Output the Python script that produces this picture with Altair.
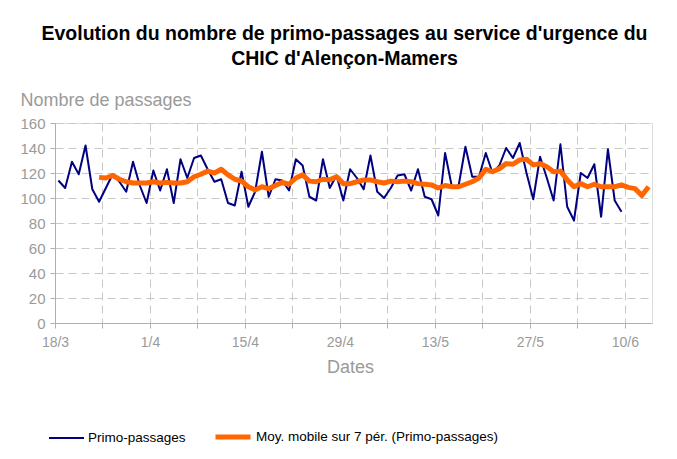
import altair as alt
import pandas as pd

# Date labels shown every 14 days (gridlines every 7 days), starting 18/3
date_labels = ["18/3", "1/4", "15/4", "29/4", "13/5", "27/5", "10/6"]

serie_names = ["Primo-passages", "Moy. mobile sur 7 pér. (Primo-passages)"]

# Daily primo-passages, from 18/3 (day 0) to day 83
primo = [114, 108, 129, 119, 142, 107, 97, 108, 119, 113,
         105, 129, 110, 96, 122, 106, 123, 96, 131, 116,
         132, 134, 123, 113, 115, 96, 94, 121, 93, 105,
         137, 101, 115, 114, 106, 131, 126, 101, 98, 131,
         108, 118, 98, 123, 116, 107, 134, 105, 100, 108,
         118, 119, 106, 123, 101, 99, 86, 136, 109, 110,
         141, 117, 117, 136, 120, 126, 140, 132, 144, 120,
         99, 133, 116, 98, 143, 93, 82, 120, 116, 127,
         85, 139, 98, 89]

# 7-period moving average, from day 6 to day 87
moy_start = 6
moy = [116.5, 116, 118, 115, 113, 112, 112, 112, 113, 112,
       112.5, 112, 112, 113, 117, 119, 121.5, 120, 123, 118.5,
       115, 113.5, 109, 106.5, 109, 107.5, 110, 112.5, 111, 116,
       118.5, 113.5, 113, 115, 114.5, 117, 111.5, 111.5, 113, 114.5,
       114.5, 113, 112, 113.5, 113, 113.5, 113, 111.5, 111, 110.5,
       108, 110, 109, 109, 111, 113, 116, 123, 121, 123.5,
       127.5, 127, 130.5, 131, 126.5, 127.5, 125, 121, 121.5, 114.5,
       109, 111.5, 109, 111, 109, 109, 109, 110.5, 108.5, 107.5,
       102, 109]

n_days = 88

df = pd.concat([
    pd.DataFrame({"jour": [i + 0.5 for i in range(len(primo))],
                  "valeur": primo, "serie": serie_names[0]}),
    pd.DataFrame({"jour": [moy_start + i + 0.5 for i in range(len(moy))],
                  "valeur": moy, "serie": serie_names[1]}),
], ignore_index=True)

labels_js = "[" + ",".join("'%s'" % s for s in date_labels) + "]"
label_expr = "datum.value % 14 == 0 ? " + labels_js + "[datum.value / 14] : ''"

grey_txt = "#9a9a9a"
grid_col = "#c8c8c8"
font = "Liberation Sans"

legend_opts = dict(title=None, orient="none", legendX=-7, legendY=294,
                   direction="horizontal", symbolType="stroke",
                   symbolSize=1225, labelFont=font, labelFontSize=13.5,
                   labelColor="black", labelOffset=3, columnPadding=19,
                   labelLimit=400)

chart = alt.Chart(df).mark_line(strokeJoin="round").encode(
    x=alt.X("jour:Q",
            scale=alt.Scale(domain=[0, n_days], nice=False, zero=False),
            axis=alt.Axis(values=list(range(0, 85, 7)), labelExpr=label_expr,
                          title="Dates", titleFontSize=18, titleFontWeight="normal",
                          titleColor=grey_txt, titleFont=font, titleBaseline="middle",
                          titleY=44, titleX=295,
                          labelFont=font, labelFontSize=14, labelColor=grey_txt,
                          labelPadding=7, tickSize=5, tickColor="#b0b0b0",
                          domainColor="#b0b0b0", grid=True, gridColor=grid_col,
                          gridDash=[8, 5], labelFlush=False, labelOverlap=False)),
    y=alt.Y("valeur:Q",
            scale=alt.Scale(domain=[0, 160], nice=False),
            axis=alt.Axis(values=list(range(0, 161, 20)),
                          title="Nombre de passages", titleAngle=0, titleAlign="left",
                          titleBaseline="alphabetic", titleX=-35, titleY=-18,
                          titleFontSize=18, titleFontWeight="normal", titleColor=grey_txt,
                          titleFont=font,
                          labelFont=font, labelFontSize=15, labelColor=grey_txt,
                          labelPadding=5, tickSize=5, tickColor="#b0b0b0",
                          domainColor="#b0b0b0", grid=True, gridColor=grid_col,
                          gridDash=[8, 5])),
    color=alt.Color("serie:N",
                    scale=alt.Scale(domain=serie_names, range=["#000080", "#FF6600"]),
                    legend=alt.Legend(**legend_opts)),
    strokeWidth=alt.StrokeWidth("serie:N",
                                scale=alt.Scale(domain=serie_names, range=[2, 5]),
                                legend=alt.Legend(**legend_opts)),
).properties(
    width=597, height=200,
    title=alt.TitleParams(
        text=["Evolution du nombre de primo-passages au service d'urgence du",
              "CHIC d'Alençon-Mamers"],
        font=font, fontSize=19.5, fontWeight="bold", color="black",
        anchor="middle", dx=-9, offset=22, lineHeight=25),
    autosize=alt.AutoSizeParams(type="none"),
    padding={"left": 47, "top": 115, "right": 17, "bottom": 128},
).configure_view(stroke=None).configure(background="white")

chart.save("out.html", embed_options={"renderer": "svg", "actions": False})
